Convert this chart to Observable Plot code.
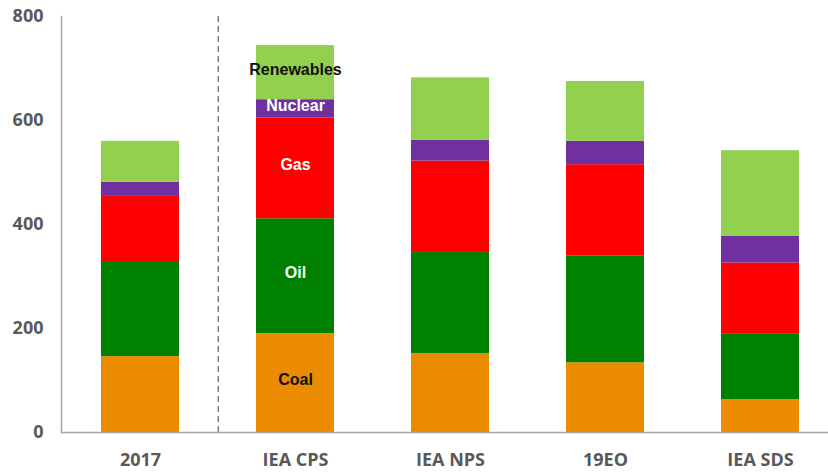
<!DOCTYPE html>
<html><head><meta charset="utf-8">
<script src="https://cdn.jsdelivr.net/npm/d3@7"></script>
<script src="https://cdn.jsdelivr.net/npm/@observablehq/plot@0.6"></script>
<style>body{margin:0;background:#fff}</style>
</head><body><div id="chart"></div>
<script>
const scenarios = ["2017", "IEA CPS", "IEA NPS", "19EO", "IEA SDS"];
const sources = ["Coal", "Oil", "Gas", "Nuclear", "Renewables"];
const coal = [146, 190, 152, 134, 63];
const oil = [181, 221, 194, 205, 127];
const gas = [127, 194, 176, 176, 136];
const nuclear = [27, 35, 40, 45, 51];
const renewables = [79, 104, 120, 115, 165];
const colors = ["#EB8C00", "#008000", "#FF0000", "#7030A0", "#92D050"];
const labelColors = ["#111111", "#ffffff", "#ffffff", "#ffffff", "#111111"];
const yTicks = [0, 200, 400, 600, 800];
const labelScenario = "IEA CPS";

const series = [coal, oil, gas, nuclear, renewables];
const data = [];
scenarios.forEach((s, i) => {
  sources.forEach((src, j) => {
    data.push({scenario: s, source: src, value: series[j][i]});
  });
});
const labelData = data.filter(d => d.scenario === labelScenario);

const chart = Plot.plot({
  width: 828,
  height: 474,
  marginLeft: 61,
  marginRight: 0,
  marginTop: 16,
  marginBottom: 42,
  style: {fontFamily: "'Open Sans', sans-serif", background: "#fff"},
  x: {domain: scenarios, range: [61, 839], paddingInner: 0.5, paddingOuter: 0.25, label: null},
  y: {domain: [0, 800], label: null},
  color: {domain: sources, range: colors},
  marks: [
    Plot.barY(data, Plot.stackY({x: "scenario", y: "value", z: "source", fill: "source", order: sources})),
    Plot.text(labelData, Plot.stackY({
      x: "scenario", y: "value", z: "source", order: sources, text: "source",
      fill: d => labelColors[sources.indexOf(d.source)],
      dy: -3,
      fontSize: 16, fontWeight: "bold", fontFamily: "'Liberation Sans', Arial, sans-serif"
    })),
    Plot.ruleX([scenarios[0]], {x: d => d, dx: 77.8, stroke: "#7F7F7F", strokeWidth: 1.5, strokeDasharray: "6,4"}),
    Plot.frame({anchor: "left", stroke: "#A6A6A6", strokeWidth: 1.5}),
    Plot.ruleY([0], {stroke: "#A6A6A6", strokeWidth: 1.5}),
    Plot.axisY({ticks: yTicks, tickSize: 0, tickPadding: 18, fontSize: 18, fontWeight: "bold", fill: "#595959", label: null}),
    Plot.axisX({tickSize: 0, tickPadding: 21, fontSize: 18, fontWeight: "bold", fill: "#595959", label: null})
  ]
});
document.getElementById("chart").appendChild(chart);
</script>
</body></html>
